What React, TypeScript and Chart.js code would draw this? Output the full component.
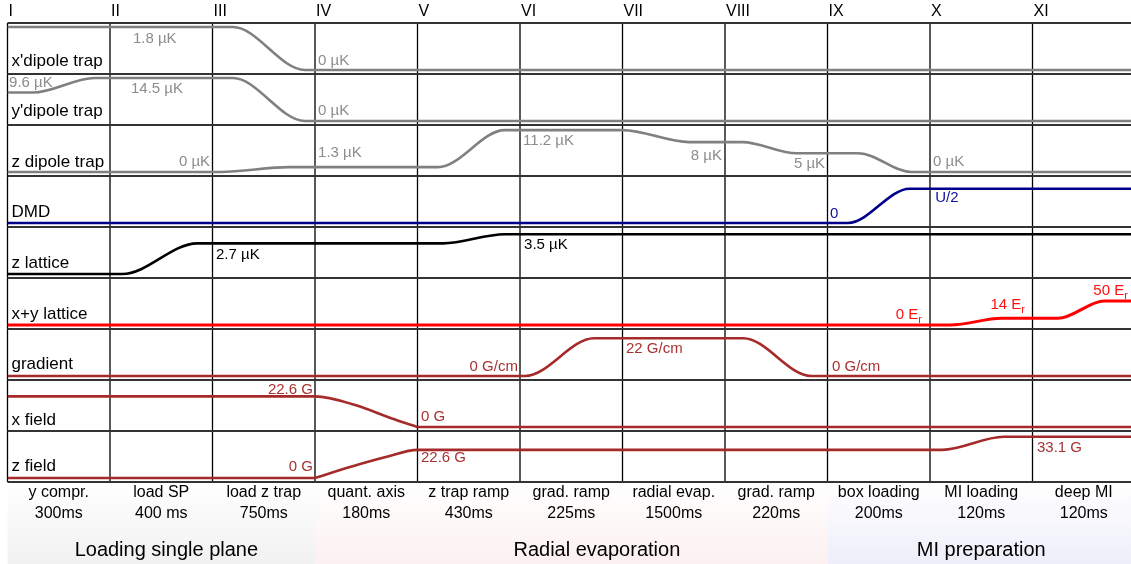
import React, { useEffect, useRef } from "react";
import { Chart, registerables } from "chart.js";

Chart.register(...registerables);

// ---------- categories / labels ----------
const romanNumerals = ["I", "II", "III", "IV", "V", "VI", "VII", "VIII", "IX", "X", "XI"];
const stepNames = ["y compr.", "load SP", "load z trap", "quant. axis", "z trap ramp", "grad. ramp", "radial evap.", "grad. ramp", "box loading", "MI loading", "deep MI"];
const stepDurations = ["300ms", "400 ms", "750ms", "180ms", "430ms", "225ms", "1500ms", "220ms", "200ms", "120ms", "120ms"];
const rowNames = ["x'dipole trap", "y'dipole trap", "z dipole trap", "DMD", "z lattice", "x+y lattice", "gradient", "x field", "z field"];
const phaseNames = ["Loading single plane", "Radial evaporation", "MI preparation"];
const phaseStart = [0, 3, 8];
const phaseEnd = [3, 8, 11];

// ---------- series (time in step units, values in physical units) ----------
const xDipoleT = [0, 2.2, 2.9, 11];
const xDipoleV = [1.8, 1.8, 0, 0]; // µK
const yDipoleT = [0, 0.25, 0.85, 2.2, 2.9, 11];
const yDipoleV = [9.6, 9.6, 14.5, 14.5, 0, 0]; // µK
const zDipoleT = [0, 2.08, 2.75, 4.2, 4.85, 6.0, 6.65, 7.17, 7.7, 8.3, 8.82, 11];
const zDipoleV = [0, 0, 1.3, 1.3, 11.2, 11.2, 8, 8, 5, 5, 0, 0]; // µK
const dmdT = [0, 8.2, 8.8, 11];
const dmdV = [0, 0, 0.5, 0.5]; // U
const zLatticeT = [0, 1.12, 1.85, 4.25, 4.85, 11];
const zLatticeV = [0, 0, 2.7, 2.7, 3.5, 3.5]; // µK
const xyLatticeT = [0, 9.2, 9.7, 10.25, 10.7, 11];
const xyLatticeV = [0, 0, 14, 14, 50, 50]; // Er
const gradientT = [0, 5.05, 5.72, 7.18, 7.84, 11];
const gradientV = [0, 0, 22, 22, 0, 0]; // G/cm
const xFieldT = [0, 3, 3.4, 3.75, 4, 11];
const xFieldV = [22.6, 22.6, 16, 6.2, 0, 0]; // G
const zFieldT = [0, 3, 3.35, 3.7, 4, 9.12, 9.72, 11];
const zFieldV = [0, 0, 9, 17, 22.6, 22.6, 33.1, 33.1]; // G

const traceT = [xDipoleT, yDipoleT, zDipoleT, dmdT, zLatticeT, xyLatticeT, gradientT, xFieldT, zFieldT];
const traceV = [xDipoleV, yDipoleV, zDipoleV, dmdV, zLatticeV, xyLatticeV, gradientV, xFieldV, zFieldV];
// index where a linear ramp meets a plateau with a corner (-1 = smooth everywhere)
const traceCorner = [-1, -1, -1, -1, -1, -1, -1, 4, 1];

// value that fills a row's drawing span
const rowFullScale = [1.8, 14.5, 11.5, 0.627, 3.79, 89.6, 25.1, 31.7, 34.5];

// ---------- styles ----------
const FONT = '"Liberation Sans", Arial, Helvetica, sans-serif';
const rowColors = ["#808080", "#808080", "#808080", "#00008b", "#000000", "#ff0000", "#a52a2a", "#a52a2a", "#a52a2a"];
const labelColors = ["#8c8c8c", "#8c8c8c", "#8c8c8c", "#10109a", "#000000", "#ff1010", "#a83232", "#a83232", "#a83232"];
const rowLabelDy = [38, 37, 37, 36, 36, 36, 35, 40, 35];
const phaseColors = ["rgba(241,241,241,1)", "rgba(252,240,240,1)", "rgba(238,238,250,1)"];

// value annotations: row, time position, pixel offset from row top, text, align, subscript
const valueLabels = [
  { row: 0, t: 1.224, dy: 16, text: "1.8 µK", align: "left" },
  { row: 0, t: 3.03, dy: 38, text: "0 µK", align: "left" },
  { row: 1, t: 0.015, dy: 9, text: "9.6 µK", align: "left" },
  { row: 1, t: 1.205, dy: 15, text: "14.5 µK", align: "left" },
  { row: 1, t: 3.03, dy: 37, text: "0 µK", align: "left" },
  { row: 2, t: 1.976, dy: 37, text: "0 µK", align: "right" },
  { row: 2, t: 3.03, dy: 28, text: "1.3 µK", align: "left" },
  { row: 2, t: 5.03, dy: 16, text: "11.2 µK", align: "left" },
  { row: 2, t: 6.97, dy: 31, text: "8 µK", align: "right" },
  { row: 2, t: 7.976, dy: 39, text: "5 µK", align: "right" },
  { row: 2, t: 9.03, dy: 37, text: "0 µK", align: "left" },
  { row: 3, t: 8.024, dy: 38, text: "0", align: "left" },
  { row: 3, t: 9.05, dy: 22, text: "U/2", align: "left" },
  { row: 4, t: 2.034, dy: 28, text: "2.7 µK", align: "left" },
  { row: 4, t: 5.04, dy: 18, text: "3.5 µK", align: "left" },
  { row: 5, t: 8.922, dy: 37, text: "0 E", sub: "r", align: "right" },
  { row: 5, t: 9.927, dy: 27, text: "14 E", sub: "r", align: "right" },
  { row: 5, t: 10.93, dy: 13, text: "50 E", sub: "r", align: "right" },
  { row: 6, t: 4.98, dy: 38, text: "0 G/cm", align: "right" },
  { row: 6, t: 6.034, dy: 20, text: "22 G/cm", align: "left" },
  { row: 6, t: 8.044, dy: 38, text: "0 G/cm", align: "left" },
  { row: 7, t: 2.98, dy: 10, text: "22.6 G", align: "right" },
  { row: 7, t: 4.034, dy: 37, text: "0 G", align: "left" },
  { row: 8, t: 2.98, dy: 36, text: "0 G", align: "right" },
  { row: 8, t: 4.034, dy: 27, text: "22.6 G", align: "left" },
  { row: 8, t: 10.044, dy: 17, text: "33.1 G", align: "left" },
];

const NROWS = 9;
const ROW_PX = 51;
const BASE = 4 / ROW_PX;
const SPAN = 43 / ROW_PX;

function toY(row: number, v: number) {
  return NROWS - 1 - row + BASE + (v / rowFullScale[row]) * SPAN;
}

const timingPlugin = {
  id: "timing",
  beforeDatasetsDraw(chart: any) {
    const { ctx, chartArea, scales } = chart;
    const xs = scales.x;
    const ys = scales.y;
    ctx.save();
    for (let i = 0; i < phaseNames.length; i++) {
      const x0 = xs.getPixelForValue(phaseStart[i]);
      const x1 = Math.min(xs.getPixelForValue(phaseEnd[i]), chart.width);
      const g = ctx.createLinearGradient(0, chartArea.bottom, 0, chart.height);
      g.addColorStop(0, "rgba(255,255,255,1)");
      g.addColorStop(1, phaseColors[i]);
      ctx.fillStyle = g;
      ctx.fillRect(x0, chartArea.bottom, x1 - x0, chart.height - chartArea.bottom);
    }
    ctx.strokeStyle = "#000";
    ctx.lineWidth = 1.3;
    for (let k = 0; k <= 10; k++) {
      const x = xs.getPixelForValue(k);
      ctx.beginPath();
      ctx.moveTo(x, chartArea.top);
      ctx.lineTo(x, chartArea.bottom);
      ctx.stroke();
    }
    ctx.strokeStyle = "#333";
    ctx.lineWidth = 2;
    for (let r = 0; r <= NROWS; r++) {
      const y = ys.getPixelForValue(r);
      ctx.beginPath();
      ctx.moveTo(chartArea.left, y);
      ctx.lineTo(chart.width, y);
      ctx.stroke();
    }
    ctx.restore();
  },
  afterDatasetsDraw(chart: any) {
    const { ctx, chartArea, scales } = chart;
    const xs = scales.x;
    const ys = scales.y;
    ctx.save();
    ctx.textBaseline = "middle";
    ctx.fillStyle = "#000";
    ctx.font = `16px ${FONT}`;
    ctx.textAlign = "left";
    romanNumerals.forEach((n, k) => {
      ctx.fillText(n, xs.getPixelForValue(k) + 1, 12);
    });
    ctx.font = `17px ${FONT}`;
    rowNames.forEach((n, r) => {
      const top = ys.getPixelForValue(NROWS - r);
      ctx.fillText(n, chartArea.left + 4, top + rowLabelDy[r]);
    });
    valueLabels.forEach((l: any) => {
      const top = ys.getPixelForValue(NROWS - l.row);
      const y = top + l.dy;
      const x = xs.getPixelForValue(l.t);
      ctx.fillStyle = labelColors[l.row];
      ctx.font = `15px ${FONT}`;
      const w1 = ctx.measureText(l.text).width;
      let w2 = 0;
      if (l.sub) {
        ctx.font = `11px ${FONT}`;
        w2 = ctx.measureText(l.sub).width;
        ctx.font = `15px ${FONT}`;
      }
      const x0 = l.align === "right" ? x - w1 - w2 : x;
      ctx.textAlign = "left";
      ctx.fillText(l.text, x0, y);
      if (l.sub) {
        ctx.font = `11px ${FONT}`;
        ctx.fillText(l.sub, x0 + w1, y + 5);
      }
    });
    ctx.fillStyle = "#000";
    ctx.textAlign = "center";
    ctx.font = `16px ${FONT}`;
    stepNames.forEach((n, k) => {
      const xc = xs.getPixelForValue(k + 0.5);
      ctx.fillText(n, xc, chartArea.bottom + 11);
      ctx.fillText(stepDurations[k], xc, chartArea.bottom + 32);
    });
    ctx.font = `20px ${FONT}`;
    const phaseCenters = [1.55, 5.75, 9.5];
    phaseNames.forEach((n, i) => {
      ctx.fillText(n, xs.getPixelForValue(phaseCenters[i]), chartArea.bottom + 68);
    });
    ctx.restore();
  },
};

export default function App() {
  const canvasRef = useRef<HTMLCanvasElement | null>(null);

  useEffect(() => {
    const canvas = canvasRef.current;
    if (!canvas) return;
    const datasets: any[] = [];
    rowNames.forEach((name, r) => {
      const pts = traceT[r].map((t, i) => ({ x: t, y: toY(r, traceV[r][i]) }));
      const c = traceCorner[r];
      const parts = c < 0 ? [pts] : [pts.slice(0, c + 1), pts.slice(c)];
      parts.forEach((p) =>
        datasets.push({
          label: name,
          data: p,
          borderColor: rowColors[r],
          backgroundColor: rowColors[r],
          borderWidth: r === 5 ? 3 : 2.6,
          pointRadius: 0,
          fill: false,
          cubicInterpolationMode: "monotone",
        })
      );
    });
    const chart = new Chart(canvas, {
      type: "line",
      data: { datasets },
      options: {
        animation: false,
        responsive: false,
        devicePixelRatio: 1,
        layout: { padding: { left: 7.5, right: 0, top: 23, bottom: 82 } },
        plugins: { legend: { display: false }, tooltip: { enabled: false } },
        scales: {
          x: { type: "linear", min: 0, max: (1131 - 7.5) / 102.5, display: false },
          y: { type: "linear", min: 0, max: NROWS, display: false },
        },
      },
      plugins: [timingPlugin],
    });
    return () => chart.destroy();
  }, []);

  return (
    <div style={{ position: "fixed", left: 0, top: 0, width: 1131, height: 564, background: "#fff" }}>
      <canvas ref={canvasRef} width={1131} height={564} style={{ display: "block", width: 1131, height: 564 }} />
    </div>
  );
}
